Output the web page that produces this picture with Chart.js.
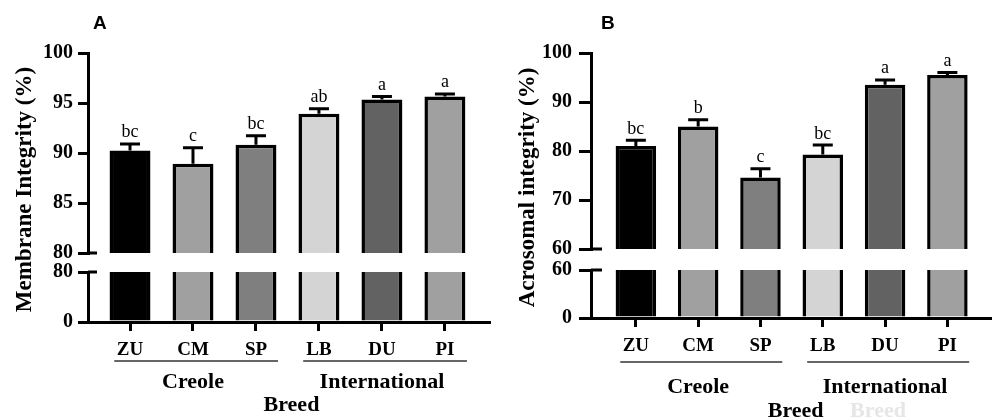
<!DOCTYPE html>
<html>
<head>
<meta charset="utf-8">
<script src="https://cdn.jsdelivr.net/npm/chart.js@4.4.0/dist/chart.umd.min.js"></script>
<style>
html, body { margin: 0; padding: 0; background: #fff; }
#wrap { position: relative; width: 992px; height: 419px; overflow: hidden; }
canvas { position: absolute; top: 0; }
</style>
</head>
<body>
<div id="wrap">
    <canvas id="aArriba" style="left:0px" width="495" height="419"></canvas>
    <canvas id="aAbajo" style="left:0px" width="495" height="419"></canvas>
    <canvas id="bArriba" style="left:495px" width="497" height="419"></canvas>
    <canvas id="bAbajo" style="left:495px" width="497" height="419"></canvas>
</div>
<script>
var Razas = ['ZU', 'CM', 'SP', 'LB', 'DU', 'PI'];
var Grupos = ['Creole', 'International'];
var GrupoInicio = [0, 3];
var GrupoFin = [2, 5];
var Colores = ['#000000', '#a0a0a0', '#7f7f7f', '#d4d4d4', '#626262', '#a0a0a0'];

var Membrana = [90.26, 88.93, 90.83, 93.93, 95.36, 95.66];
var MembranaError = [0.65, 1.6, 0.9, 0.5, 0.3, 0.25];
var MembranaLetras = ['bc', 'c', 'bc', 'ab', 'a', 'a'];
var TicksMembrana = [80, 85, 90, 95, 100];
var TicksMembranaBase = [0, 80];

var Acrosoma = [81.0, 85.0, 74.6, 79.3, 93.5, 95.5];
var AcrosomaError = [1.2, 1.4, 1.8, 1.9, 1.0, 0.5];
var AcrosomaLetras = ['bc', 'b', 'c', 'bc', 'a', 'a'];
var TicksAcrosoma = [60, 70, 80, 90, 100];
var TicksAcrosomaBase = [0, 60];

var PanelA = {
    letra: 'A', titulo: 'Membrane Integrity (%)',
    valores: Membrana, errores: MembranaError, letras: MembranaLetras,
    ticksArriba: TicksMembrana, ticksAbajo: TicksMembranaBase,
    ancho: 495, eje: 88, derecha: 489, xMin: -0.667, marca: 10, sep: 5,
    arriba: [53, 253], abajo: [272, 322],
    letraX: 5, linea: 361, grupo: 382, breed: 405, fantasma: null
};

var PanelB = {
    letra: 'B', titulo: 'Acrosomal integrity (%)',
    valores: Acrosoma, errores: AcrosomaError, letras: AcrosomaLetras,
    ticksArriba: TicksAcrosoma, ticksAbajo: TicksAcrosomaBase,
    ancho: 497, eje: 96, derecha: 496, xMin: -0.72, marca: 12, sep: 7,
    arriba: [53, 249], abajo: [270, 318],
    letraX: 10, linea: 362, grupo: 387, breed: 411, fantasma: 383
};

function Grafica(id, panel, arriba)
{
    var puntos = [];
    for (var i = 0; i < Razas.length; i++)
    {
        puntos.push({ x: i, y: panel.valores[i] });
    }
    var marcas = arriba ? panel.ticksArriba : panel.ticksAbajo;
    var area = arriba ? panel.arriba : panel.abajo;
    var fuenteX = { family: 'Liberation Serif', size: 19, weight: 'bold' };
    var fuenteY = { family: 'Liberation Serif', size: 20, weight: 'bold' };

    var extras = {
        id: 'extras',
        afterDraw: function(chart)
        {
            var ctx = chart.ctx;
            var x = chart.scales.x;
            var y = chart.scales.y;
            var ca = chart.chartArea;
            ctx.save();
            ctx.strokeStyle = '#000';
            ctx.fillStyle = '#000';
            ctx.lineWidth = 3;

            // marca del corte del eje
            var yc = y.getPixelForValue(arriba ? y.min : y.max);
            ctx.beginPath();
            ctx.moveTo(ca.left, yc);
            ctx.lineTo(ca.left + panel.marca - 1, yc);
            ctx.stroke();

            if (arriba)
            {
                var meta = chart.getDatasetMeta(0);
                ctx.font = '18px "Liberation Serif"';
                ctx.textAlign = 'center';
                ctx.textBaseline = 'alphabetic';
                for (var i = 0; i < Razas.length; i++)
                {
                    var bx = meta.data[i].x;
                    var y0 = y.getPixelForValue(panel.valores[i]);
                    var y1 = y.getPixelForValue(panel.valores[i] + panel.errores[i]);
                    ctx.beginPath();
                    ctx.moveTo(bx, y0);
                    ctx.lineTo(bx, y1);
                    ctx.moveTo(bx - 10, y1);
                    ctx.lineTo(bx + 10, y1);
                    ctx.stroke();
                    ctx.fillText(panel.letras[i], bx, y1 - 6.5);
                }
            }
            else
            {
                // grupos
                ctx.lineWidth = 1.5;
                ctx.strokeStyle = '#333';
                ctx.font = 'bold 22px "Liberation Serif"';
                ctx.textAlign = 'center';
                ctx.textBaseline = 'middle';
                for (var g = 0; g < Grupos.length; g++)
                {
                    ctx.beginPath();
                    ctx.moveTo(x.getPixelForValue(GrupoInicio[g] - 0.25), panel.linea);
                    ctx.lineTo(x.getPixelForValue(GrupoFin[g] + 0.35), panel.linea);
                    ctx.stroke();
                    ctx.fillText(Grupos[g], x.getPixelForValue((GrupoInicio[g] + GrupoFin[g]) / 2), panel.grupo);
                }
                ctx.fillText('Breed', x.getPixelForValue(2.5) + 4, panel.breed);
                if (panel.fantasma)
                {
                    ctx.fillStyle = '#e6e6e6';
                    ctx.fillText('Breed', panel.fantasma, panel.breed);
                    ctx.fillStyle = '#000';
                }

                // titulo del eje y
                ctx.font = 'bold 23px "Liberation Serif"';
                ctx.save();
                ctx.translate(ca.left - 63, (panel.arriba[0] + panel.abajo[1]) / 2 + 2);
                ctx.rotate(-Math.PI / 2);
                ctx.fillText(panel.titulo, 0, 0);
                ctx.restore();

                // letra del panel
                ctx.font = 'bold 19px "Liberation Sans"';
                ctx.textAlign = 'left';
                ctx.textBaseline = 'alphabetic';
                ctx.fillText(panel.letra, ca.left + panel.letraX, 29);
            }
            ctx.restore();
        }
    };

    var ctx = document.getElementById(id).getContext('2d');
    return new Chart(ctx, {
        type: 'bar',
        data: {
            datasets: [{
                data: puntos,
                backgroundColor: Colores,
                borderColor: '#000',
                borderWidth: 3.5,
                borderSkipped: 'start',
                barPercentage: 0.65,
                categoryPercentage: 1,
                clip: 0
            }]
        },
        options: {
            responsive: false,
            animation: false,
            devicePixelRatio: 1,
            layout: {
                padding: {
                    top: area[0],
                    bottom: arriba ? 419 - area[1] : 0,
                    left: 0,
                    right: panel.ancho - panel.derecha
                }
            },
            plugins: { legend: { display: false }, tooltip: { enabled: false } },
            scales: {
                x: {
                    type: 'linear',
                    min: panel.xMin,
                    max: 5.7,
                    offset: false,
                    display: !arriba,
                    z: 1,
                    afterBuildTicks: function(s)
                    {
                        s.ticks = Razas.map(function(r, i) { return { value: i }; });
                    },
                    afterFit: function(s)
                    {
                        if (!arriba)
                        {
                            s.height = 419 - area[1];
                        }
                    },
                    border: { display: true, color: '#000', width: 3 },
                    grid: { display: true, offset: false, drawOnChartArea: false, drawTicks: true, tickLength: 9, lineWidth: 3, color: '#000' },
                    ticks: {
                        color: '#000',
                        font: fuenteX,
                        padding: 8,
                        maxRotation: 0,
                        autoSkip: false,
                        callback: function(v) { return Razas[v]; }
                    }
                },
                y: {
                    min: marcas[0],
                    max: marcas[marcas.length - 1],
                    afterBuildTicks: function(s)
                    {
                        s.ticks = marcas.map(function(m) { return { value: m }; });
                    },
                    afterFit: function(s)
                    {
                        s.width = panel.eje;
                    },
                    border: { display: true, color: '#000', width: 3 },
                    grid: { display: true, drawOnChartArea: false, drawTicks: true, tickLength: panel.marca, lineWidth: 3, color: '#000' },
                    ticks: { color: '#000', font: fuenteY, padding: panel.sep }
                }
            }
        },
        plugins: [extras]
    });
}

Grafica('aArriba', PanelA, true);
Grafica('aAbajo', PanelA, false);
Grafica('bArriba', PanelB, true);
Grafica('bAbajo', PanelB, false);
</script>
</body>
</html>
